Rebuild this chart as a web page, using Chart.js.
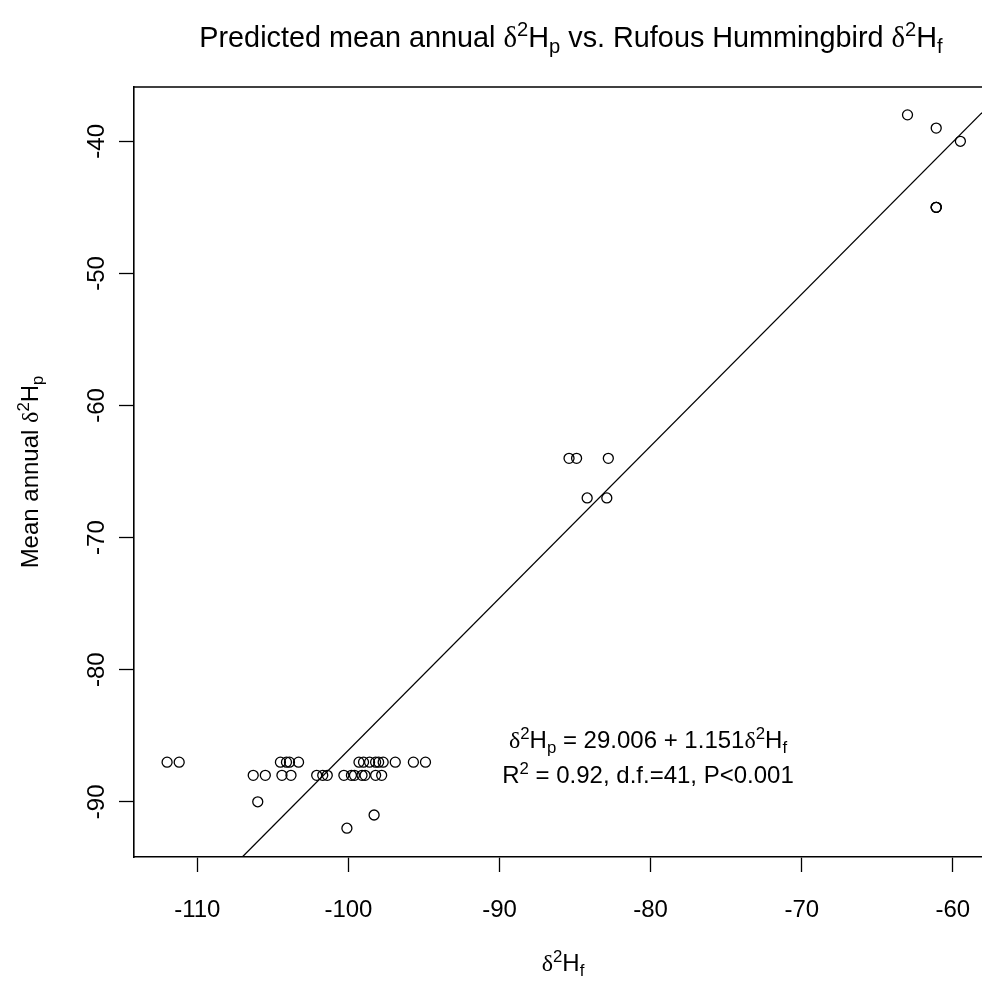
<!DOCTYPE html>
<html>
<head>
<meta charset="utf-8">
<script src="https://cdn.jsdelivr.net/npm/chart.js@4.4.1/dist/chart.umd.min.js"></script>
<style>
  html, body { margin: 0; padding: 0; background: #fff; overflow: hidden; }
  #wrap { width: 982px; height: 982px; }
</style>
</head>
<body>
<div id="wrap"><canvas id="chart" width="982" height="982"></canvas></div>
<script>
// feather d2H (x) and predicted mean annual precipitation d2H (y)
const featherH = [
  -112.0, -111.2, -104.5, -104.1, -103.9, -103.3, -99.3, -99.0, -98.6, -98.2, -98.0, -97.7, -96.9, -95.7, -94.9,
  -106.3, -105.5, -104.4, -103.8, -102.1, -101.7, -101.4, -100.3, -99.8, -99.6, -99.1, -98.9, -98.2, -97.8,
  -106.0, -98.3, -100.1,
  -85.4, -84.9, -82.8, -84.2, -82.9,
  -63.0, -61.1, -59.5, -61.1, -61.1, -61.1
];
const precipH = [
  -87, -87, -87, -87, -87, -87, -87, -87, -87, -87, -87, -87, -87, -87, -87,
  -88, -88, -88, -88, -88, -88, -88, -88, -88, -88, -88, -88, -88, -88,
  -90, -91, -92,
  -64, -64, -64, -67, -67,
  -38, -39, -40, -45, -45, -45
];
const xTicks = [-110, -100, -90, -80, -70, -60];
const yTicks = [-90, -80, -70, -60, -50, -40];
const fitIntercept = 29.006;
const fitSlope = 1.151;
const xRange = [-114.19, -58.07];
const yRange = [-94.18, -35.89];

const SANS = '"Liberation Sans", Arial, sans-serif';
const SERIF = '"Liberation Serif", "Times New Roman", serif';

// text pieces: [text, kind] where kind is '', 'g' (greek), 'sup' or 'sub'
function pieceFont(kind, size) {
  const s = (kind === 'sup' || kind === 'sub') ? size * 0.7 : size;
  return s + 'px ' + (kind === 'g' ? SERIF : SANS);
}

function richWidth(ctx, parts, size) {
  let w = 0;
  parts.forEach(([t, k]) => {
    ctx.font = pieceFont(k, size);
    w += ctx.measureText(t).width;
  });
  return w;
}

function drawRich(ctx, parts, x, y, size) {
  let cx = x - richWidth(ctx, parts, size) / 2;
  ctx.textBaseline = 'alphabetic';
  ctx.textAlign = 'left';
  parts.forEach(([t, k]) => {
    ctx.font = pieceFont(k, size);
    let dy = 0;
    if (k === 'sup') dy = -0.38 * size;
    if (k === 'sub') dy = 0.2 * size;
    ctx.fillText(t, cx, y + dy);
    cx += ctx.measureText(t).width;
  });
}

const titleParts = [['Predicted mean annual ', ''], ['\u03b4', 'g'], ['2', 'sup'], ['H', ''], ['p', 'sub'],
  [' vs. Rufous Hummingbird ', ''], ['\u03b4', 'g'], ['2', 'sup'], ['H', ''], ['f', 'sub']];
const xLabelParts = [['\u03b4', 'g'], ['2', 'sup'], ['H', ''], ['f', 'sub']];
const yLabelParts = [['Mean annual ', ''], ['\u03b4', 'g'], ['2', 'sup'], ['H', ''], ['p', 'sub']];
const eqParts = [['\u03b4', 'g'], ['2', 'sup'], ['H', ''], ['p', 'sub'], [' = 29.006 + 1.151', ''],
  ['\u03b4', 'g'], ['2', 'sup'], ['H', ''], ['f', 'sub']];
const statParts = [['R', ''], ['2', 'sup'], [' = 0.92, d.f.=41, P<0.001', '']];

const textPlugin = {
  id: 'rText',
  afterDraw(chart) {
    const ctx = chart.ctx;
    const area = chart.chartArea;
    const xs = chart.scales.x, ys = chart.scales.y;
    ctx.save();
    ctx.fillStyle = '#000';
    ctx.strokeStyle = '#000';
    ctx.lineWidth = 1.6;
    // top edge of the box
    ctx.beginPath();
    ctx.moveTo(area.left, area.top);
    ctx.lineTo(area.right, area.top);
    ctx.stroke();

    xTicks.forEach(v => drawRich(ctx, [[String(v), '']], xs.getPixelForValue(v), 917, 24));
    yTicks.forEach(v => {
      ctx.save();
      ctx.translate(104, ys.getPixelForValue(v));
      ctx.rotate(-Math.PI / 2);
      drawRich(ctx, [[String(v), '']], 0, 0, 24);
      ctx.restore();
    });

    drawRich(ctx, titleParts, 571, 47, 28.8);
    drawRich(ctx, xLabelParts, 563, 971, 24);
    ctx.save();
    ctx.translate(38, (area.top + area.bottom) / 2);
    ctx.rotate(-Math.PI / 2);
    drawRich(ctx, yLabelParts, 0, 0, 24);
    ctx.restore();

    drawRich(ctx, eqParts, 648, 748, 24);
    drawRich(ctx, statParts, 648, 783, 24);
    ctx.restore();
  }
};

const points = featherH.map((x, i) => ({ x, y: precipH[i] }));
const fitLine = xRange.map(x => ({ x, y: fitIntercept + fitSlope * x }));

const axisGrid = {
  display: true,
  drawOnChartArea: false,
  drawTicks: true,
  tickLength: 15,
  tickColor: '#000',
  tickWidth: 1.3,
  color: '#000'
};

new Chart(document.getElementById('chart').getContext('2d'), {
  type: 'scatter',
  data: {
    datasets: [
      {
        type: 'scatter',
        data: points,
        borderColor: '#000',
        backgroundColor: 'rgba(0,0,0,0)',
        pointStyle: 'circle',
        pointRadius: 5,
        pointHoverRadius: 5,
        borderWidth: 1.3
      },
      {
        type: 'line',
        data: fitLine,
        borderColor: '#000',
        borderWidth: 1.3,
        pointRadius: 0,
        fill: false,
        tension: 0
      }
    ]
  },
  options: {
    responsive: false,
    animation: false,
    devicePixelRatio: 1,
    events: [],
    layout: { autoPadding: false, padding: { top: 87, left: 0, right: 0, bottom: 0 } },
    plugins: { legend: { display: false }, tooltip: { enabled: false } },
    scales: {
      x: {
        type: 'linear',
        position: 'bottom',
        min: xRange[0],
        max: xRange[1],
        afterBuildTicks: s => { s.ticks = xTicks.map(v => ({ value: v })); },
        afterFit: s => { s.height = 125; },
        ticks: { display: false },
        grid: axisGrid,
        border: { display: true, color: '#000', width: 1.6 }
      },
      y: {
        type: 'linear',
        position: 'left',
        min: yRange[0],
        max: yRange[1],
        afterBuildTicks: s => { s.ticks = yTicks.map(v => ({ value: v })); },
        afterFit: s => { s.width = 134; },
        ticks: { display: false },
        grid: axisGrid,
        border: { display: true, color: '#000', width: 1.6 }
      }
    }
  },
  plugins: [textPlugin]
});
</script>
</body>
</html>
